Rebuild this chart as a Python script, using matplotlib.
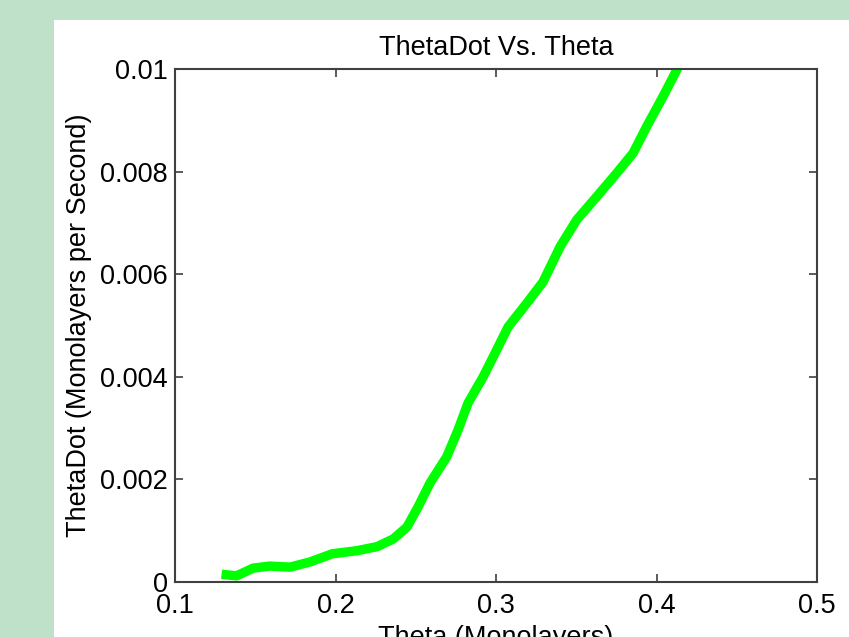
import matplotlib
matplotlib.use("Agg")
import matplotlib.pyplot as plt
from matplotlib.patches import Rectangle

theta = [0.129, 0.1384, 0.1486, 0.159, 0.1717, 0.184, 0.198, 0.2134, 0.226, 0.236,
         0.2445, 0.2514, 0.2589, 0.2693, 0.2763, 0.2826, 0.292, 0.2994, 0.3075,
         0.3193, 0.3293, 0.340, 0.3503, 0.3627, 0.3752, 0.3854, 0.3939, 0.404,
         0.4126, 0.416]
theta_dot = [0.00015, 0.00012, 0.00027, 0.00031, 0.00029, 0.00039, 0.00055, 0.00061,
             0.00069, 0.00084, 0.00107, 0.00146, 0.00193, 0.00244, 0.00296, 0.00349,
             0.0040, 0.00446, 0.00497, 0.00544, 0.00585, 0.00654, 0.00706, 0.00751,
             0.00797, 0.00836, 0.00888, 0.00946, 0.00998, 0.0102]

xticks = [0.1, 0.2, 0.3, 0.4, 0.5]
xticklabels = ["0.1", "0.2", "0.3", "0.4", "0.5"]
yticks = [0, 0.002, 0.004, 0.006, 0.008, 0.01]
yticklabels = ["0", "0.002", "0.004", "0.006", "0.008", "0.01"]

plt.rcParams['font.family'] = ['Liberation Sans', 'DejaVu Sans']
fs = 19.5

fig = plt.figure(figsize=(8.49, 6.37), dpi=100)
fig.patch.set_facecolor('#bfe1ca')
fig.patches.append(Rectangle((54 / 849, 0), 1 - 54 / 849, (637 - 20) / 637,
                             transform=fig.transFigure, facecolor='white',
                             edgecolor='none', zorder=-10))

ax = fig.add_axes([175 / 849, (637 - 582) / 637, (817 - 175) / 849, (582 - 69) / 637])
ax.set_zorder(5)
ax.set_facecolor('white')
ax.plot(theta, theta_dot, color='#00ff00', linewidth=6.8,
        solid_capstyle='butt', solid_joinstyle='round')
ax.set_xlim(0.1, 0.5)
ax.set_ylim(0, 0.01)
ax.set_xticks(xticks)
ax.set_xticklabels(xticklabels)
ax.set_yticks(yticks)
ax.set_yticklabels(yticklabels)
ax.tick_params(direction='in', length=6, width=1.2, color='#404040',
               labelsize=fs, top=True, right=True)
ax.tick_params(axis='x', pad=8)
ax.tick_params(axis='y', pad=5)
for s in ax.spines.values():
    s.set_color('#404040')
    s.set_linewidth(1.5)
ax.set_title('ThetaDot Vs. Theta', fontsize=fs, pad=10)
ax.set_xlabel('Theta (Monolayers)', fontsize=fs, labelpad=4)
ax.set_ylabel('ThetaDot (Monolayers per Second)', fontsize=fs, labelpad=6)

fig.savefig('out.png', dpi=100, facecolor=fig.get_facecolor())
